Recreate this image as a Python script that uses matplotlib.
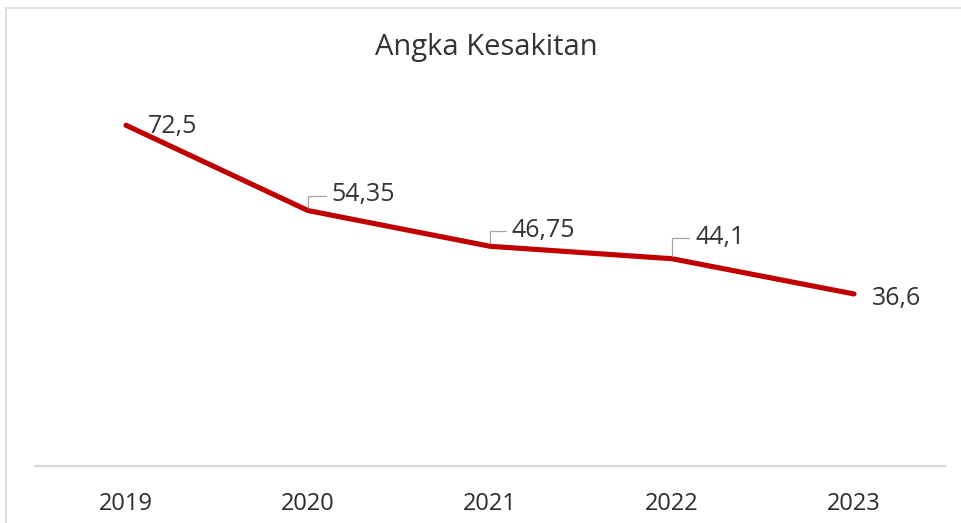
import matplotlib
matplotlib.use("Agg")
import matplotlib.pyplot as plt
from matplotlib import font_manager
from matplotlib.patches import Rectangle

years = ["2019", "2020", "2021", "2022", "2023"]
values = [72.5, 54.35, 46.75, 44.1, 36.6]
labels = ["72,5", "54,35", "46,75", "44,1", "36,6"]

# label placement in pixels from each point: text anchor, leader elbow (None = no leader)
label_offsets = [(22, -1), (23, 16), (22, 16), (23, 21), (18, -5)]
leader_offsets = [None, (18, 15), (16, 15), (17, 21), None]

available = {f.name for f in font_manager.fontManager.ttflist}
family = next(f for f in ["Liberation Sans Narrow", "Open Sans", "DejaVu Sans"] if f in available)
plt.rcParams["font.family"] = family

W, H = 962, 523
fig = plt.figure(figsize=(W / 100, H / 100), dpi=100)
fig.patch.set_facecolor("white")

# chart frame (only top and left edges show)
fig.patches.append(Rectangle((5.5 / W, -0.1), 1.2, 1.1 - 7.5 / H,
                             transform=fig.transFigure, fill=False,
                             edgecolor="#D9D9D9", linewidth=1.2))

ax = fig.add_axes([35 / W, 57 / H, 910 / W, 376 / H])
x = list(range(len(years)))
ax.plot(x, values, color="#C00000", linewidth=3.7, solid_capstyle="round",
        solid_joinstyle="round", zorder=3)
ax.set_xlim(-0.5, len(years) - 0.5)
ax.set_ylim(0, 80)

for s in ["top", "right", "left"]:
    ax.spines[s].set_visible(False)
ax.spines["bottom"].set_color("#D9D9D9")
ax.spines["bottom"].set_linewidth(1.5)
ax.set_yticks([])
ax.set_xticks(x)
ax.set_xticklabels(years)
ax.tick_params(axis="x", length=0, pad=19, labelsize=17, labelcolor="#2B2B2B")

for xi, v, lab, off, lead in zip(x, values, labels, label_offsets, leader_offsets):
    if lead is not None:
        ax.annotate("", xy=(xi, v), xytext=lead, textcoords="offset pixels",
                    arrowprops=dict(arrowstyle="-", color="#A6A6A6", lw=0.9,
                                    shrinkA=0, shrinkB=2,
                                    connectionstyle="angle,angleA=0,angleB=90,rad=0"))
    ax.annotate(lab, xy=(xi, v), xytext=off, textcoords="offset pixels",
                ha="left", va="center", fontsize=18, color="#333333", zorder=4)

fig.text(486 / W, 1 - 47 / H, "Angka Kesakitan", ha="center", va="center",
         fontsize=21, color="#333333")

fig.savefig("out.png", dpi=100)
